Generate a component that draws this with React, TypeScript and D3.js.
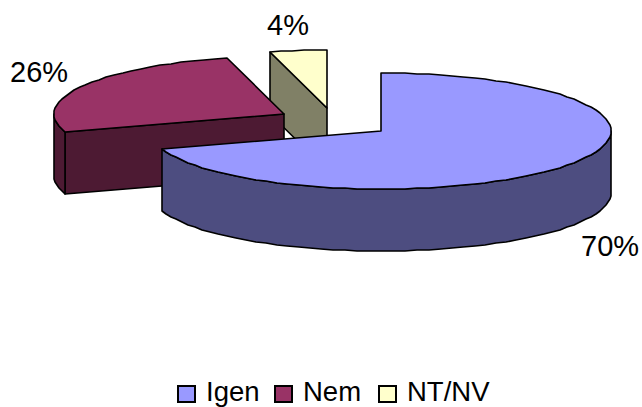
import * as d3 from "d3";

const categories = ["Igen", "Nem", "NT/NV"];
const values = [70, 26, 4];
const percentLabels = ["70%", "26%", "4%"];
const topColors = ["#9999FF", "#993366", "#FFFFCC"];
const sideColors = ["#4D4D80", "#4D1A33", "#808066"];

const width = 642;
const height = 407;
const fontFamily = "'Liberation Sans', Arial, sans-serif";

// ellipse of the tilted pie
const cx = 381;
const cy = 131;
const rx = 230;
const ry = 58;
const depth = 62;

// how far each slice was pulled away from the centre
const explode: [number, number][] = [
	[0, 0],
	[-97, -17],
	[-54, -23],
];
const labelPos: [number, number][] = [
	[581, 256],
	[10, 82],
	[267, 35],
];
const legendX = [178, 275, 379];

const pie = d3
	.pie<number>()
	.sort(null)
	.value((d) => d);

const line = d3.line<[number, number]>();

const STEP = Math.PI / 60;

// outline points between two angles (clockwise from 12 o'clock)
const arcPoints = (a0: number, a1: number, ox: number, oy: number) => {
	const n = Math.max(1, Math.round((a1 - a0) / STEP));
	return d3.range(n + 1).map((i): [number, number] => {
		const a = a0 + ((a1 - a0) * i) / n;
		return [Math.round(cx + ox + rx * Math.sin(a)), Math.round(cy + oy - ry * Math.cos(a))];
	});
};

const drop = (pts: [number, number][]) =>
	pts.map(([x, y]): [number, number] => [x, y + depth]);

const App = () => {
	const arcs = pie(values);
	const order = [2, 1, 0];

	return (
		<svg
			width={width}
			height={height}
			style={{ position: "absolute", left: 0, top: 0, background: "#fff" }}
		>
			{order.map((i) => {
				const { startAngle, endAngle } = arcs[i];
				const [ox, oy] = explode[i];
				const apex: [number, number] = [cx + ox, cy + oy];
				const rim = arcPoints(startAngle, endAngle, ox, oy);
				const faces: [number, number][][] = [];

				// the flat cut faces show only when they turn towards the viewer
				if (startAngle > Math.PI && startAngle < 2 * Math.PI) {
					const top: [number, number][] = [apex, rim[0]];
					faces.push([...top, ...drop(top).reverse()]);
				}
				if (endAngle > 0 && endAngle < Math.PI) {
					const top: [number, number][] = [apex, rim[rim.length - 1]];
					faces.push([...top, ...drop(top).reverse()]);
				}
				const a0 = Math.max(startAngle, Math.PI / 2);
				const a1 = Math.min(endAngle, (3 * Math.PI) / 2);
				if (a1 > a0) {
					const top = arcPoints(a0, a1, ox, oy);
					faces.push([...top, ...drop(top).reverse()]);
				}

				return (
					<g key={categories[i]} stroke="#000" strokeWidth={1.6} strokeLinejoin="round">
						{faces.map((f, j) => (
							<path key={j} d={line(f) + "Z"} fill={sideColors[i]} />
						))}
						<path d={line([apex, ...rim]) + "Z"} fill={topColors[i]} />
					</g>
				);
			})}

			{percentLabels.map((t, i) => (
				<text
					key={t}
					x={labelPos[i][0]}
					y={labelPos[i][1]}
					fontFamily={fontFamily}
					fontSize={29}
					fill="#000"
				>
					{t}
				</text>
			))}

			{categories.map((c, i) => (
				<g key={c}>
					<rect
						x={legendX[i]}
						y={386}
						width={17}
						height={16}
						fill={topColors[i]}
						stroke="#000"
						strokeWidth={2}
					/>
					<text x={legendX[i] + 28} y={401} fontFamily={fontFamily} fontSize={27.5} fill="#000">
						{c}
					</text>
				</g>
			))}
		</svg>
	);
};

export default App;
